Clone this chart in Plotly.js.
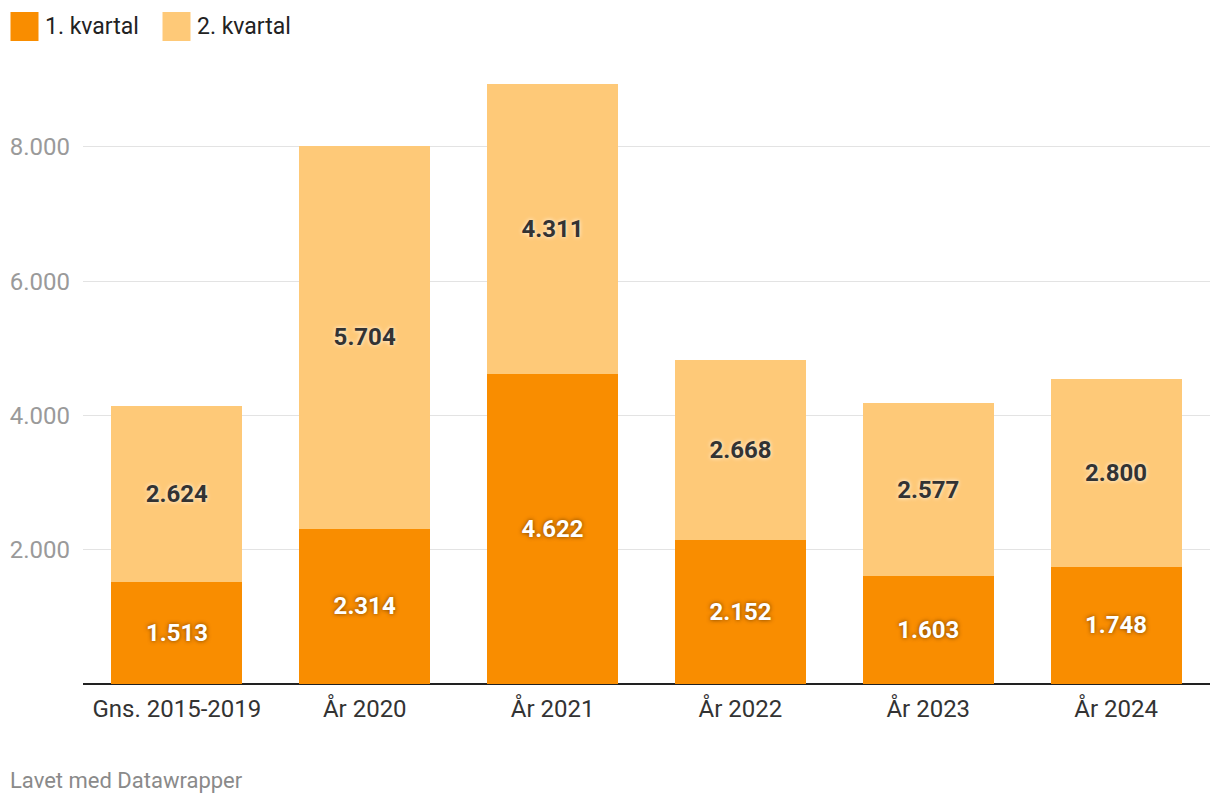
<!DOCTYPE html>
<html>
<head>
<meta charset="utf-8">
<script src="https://cdn.plot.ly/plotly-3.0.1.min.js"></script>
<style>html,body{margin:0;padding:0;background:#fff;}#chart{width:1220px;height:806px;}</style>
</head>
<body>
<div id="chart"></div>
<script>
const categories = ["Gns. 2015-2019", "År 2020", "År 2021", "År 2022", "År 2023", "År 2024"];
const q1Values = [1513, 2314, 4622, 2152, 1603, 1748];
const q2Values = [2624, 5704, 4311, 2668, 2577, 2800];
const seriesNames = ["1. kvartal", "2. kvartal"];
const tickValues = [0, 2000, 4000, 6000, 8000];
const tickLabels = ["", "2.000", "4.000", "6.000", "8.000"];

const fmt = v => v.toLocaleString("da-DK");
const colors = ["#f98d00", "#fec978"];

const traces = [
  {
    type: "bar", name: seriesNames[0], x: categories, y: q1Values,
    marker: {color: colors[0]},
    text: q1Values.map(fmt), textposition: "inside", insidetextanchor: "middle",
    textfont: {family: "Roboto", size: 24, color: "#ffffff", weight: 700, shadow: "0px 0px 4px rgba(60,30,0,0.7)"},
    hoverinfo: "skip"
  },
  {
    type: "bar", name: seriesNames[1], x: categories, y: q2Values,
    marker: {color: colors[1]},
    text: q2Values.map(fmt), textposition: "inside", insidetextanchor: "middle",
    textfont: {family: "Roboto", size: 24, color: "#333333", weight: 700, shadow: "0px 0px 4px rgba(255,255,255,0.9)"},
    hoverinfo: "skip"
  }
];

const layout = {
  width: 1220, height: 806,
  margin: {l: 82.5, r: 10, t: 60, b: 122},
  paper_bgcolor: "#ffffff", plot_bgcolor: "#ffffff",
  barmode: "stack", bargap: 0.303,
  showlegend: false,
  separators: ",.",
  font: {family: "Roboto", color: "#333"},
  xaxis: {
    type: "category", showgrid: false, zeroline: false, showline: false,
    ticks: "", ticklabelstandoff: 8, tickfont: {family: "Roboto", size: 24, color: "#333333"},
    fixedrange: true
  },
  yaxis: {
    range: [0, 9296], tickvals: tickValues, ticktext: tickLabels,
    showgrid: true, gridcolor: "#e3e3e3", gridwidth: 1,
    zeroline: true, zerolinecolor: "#222222", zerolinewidth: 2,
    showline: false, ticks: "", ticklabelstandoff: 12,
    tickfont: {family: "Roboto", size: 24, color: "#9a9a9a"},
    fixedrange: true
  },
  shapes: [
    {type: "rect", xref: "paper", yref: "paper", xsizemode: "pixel", ysizemode: "pixel",
     xanchor: 0, yanchor: 1, x0: -72.5, x1: -44.5, y0: 48, y1: 19, fillcolor: colors[0], line: {width: 0}},
    {type: "rect", xref: "paper", yref: "paper", xsizemode: "pixel", ysizemode: "pixel",
     xanchor: 0, yanchor: 1, x0: 79.5, x1: 107.5, y0: 48, y1: 19, fillcolor: colors[1], line: {width: 0}}
  ],
  annotations: [
    {xref: "paper", yref: "paper", x: 0, y: 1, xshift: -40, yshift: 34, xanchor: "left", yanchor: "middle",
     text: seriesNames[0], showarrow: false, font: {family: "Roboto", size: 23, color: "#222222"}},
    {xref: "paper", yref: "paper", x: 0, y: 1, xshift: 112, yshift: 34, xanchor: "left", yanchor: "middle",
     text: seriesNames[1], showarrow: false, font: {family: "Roboto", size: 23, color: "#222222"}},
    {xref: "paper", yref: "paper", x: 0, y: 0, xshift: -75, yshift: -96, xanchor: "left", yanchor: "middle",
     text: "Lavet med Datawrapper", showarrow: false, font: {family: "Roboto", size: 22, color: "#8a8a8a"}}
  ]
};

Plotly.newPlot("chart", traces, layout, {displayModeBar: false, staticPlot: true});
</script>
</body>
</html>
